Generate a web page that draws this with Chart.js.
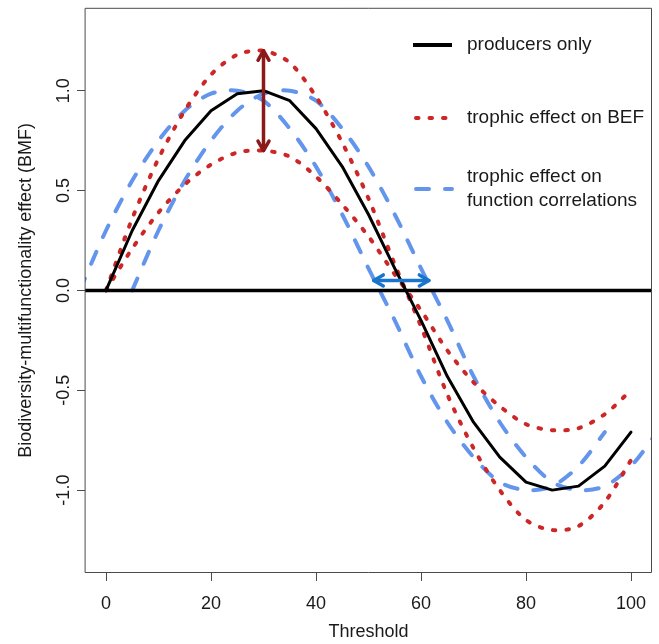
<!DOCTYPE html>
<html>
<head>
<meta charset="utf-8">
<script src="https://cdn.jsdelivr.net/npm/chart.js@4.4.0/dist/chart.umd.min.js"></script>
<style>
  html, body { margin: 0; padding: 0; background: #fff; }
  #wrap { width: 659px; height: 644px; position: relative; }
</style>
</head>
<body>
<div id="wrap"><canvas id="chart"></canvas></div>
<script>
// values
const thresholds = [0, 5, 10, 15, 20, 25, 30, 35, 40, 45, 50, 55, 60, 65, 70, 75, 80, 85, 90, 95, 100];
const producersOnly = [0, 0.3, 0.55, 0.75, 0.9, 0.985, 1.0, 0.95, 0.81, 0.62, 0.38, 0.11, -0.15, -0.43, -0.66, -0.835, -0.96, -1.0, -0.98, -0.88, -0.71];
const befHigh = [0, 0.36, 0.66, 0.9, 1.08, 1.18, 1.2, 1.14, 0.97, 0.74, 0.46, 0.13, -0.18, -0.52, -0.79, -1.0, -1.15, -1.2, -1.18, -1.06, -0.85];
const befLow = [0, 0.21, 0.39, 0.53, 0.63, 0.69, 0.7, 0.67, 0.57, 0.43, 0.27, 0.08, -0.1, -0.3, -0.46, -0.58, -0.67, -0.7, -0.69, -0.62, -0.5];
const corrEarlyX = [-5, 0, 5, 10, 15, 20, 25, 30, 35, 40, 45, 50, 55, 60, 65, 70, 75, 80, 85, 90, 95];
const corrEarlyY = [0, 0.3, 0.55, 0.75, 0.9, 0.985, 1.0, 0.95, 0.81, 0.62, 0.38, 0.11, -0.15, -0.43, -0.66, -0.835, -0.96, -1.0, -0.98, -0.88, -0.71];
const corrLateX = [5, 10, 15, 20, 25, 30, 35, 40, 45, 50, 55, 60, 65, 70, 75, 80, 85, 90, 95, 100, 105];
const corrLateY = [0, 0.3, 0.55, 0.75, 0.9, 0.985, 1.0, 0.95, 0.81, 0.62, 0.38, 0.11, -0.15, -0.43, -0.66, -0.835, -0.96, -1.0, -0.98, -0.88, -0.71];

const xTicks = [0, 20, 40, 60, 80, 100];
const yTicks = [-1, -0.5, 0, 0.5, 1];

// the two arrows: BEF spread at threshold 30, correlation shift around zero
const befArrow = { x: 30, from: 0.7, to: 1.2 };
const corrArrow = { y: 0.05, from: 51, to: 61.5 };

const legendLabels = [['producers only'], ['trophic effect on BEF'], ['trophic effect on', 'function correlations']];

const FONT = "'Liberation Sans', Arial, Helvetica, sans-serif";
const TEXT_COLOR = '#1a1a1a';
const AXIS_COLOR = '#4a4a4a';
const RED = '#cd2626';
const BLUE = '#6495ed';

function toPoints(xs, ys) {
    return xs.map((x, i) => ({ x: x, y: ys[i] }));
}

const lineBase = { pointRadius: 0, fill: false, clip: 0, borderCapStyle: 'round', borderJoinStyle: 'round' };

const datasets = [
    Object.assign({}, lineBase, { label: 'producers only', data: toPoints(thresholds, producersOnly),
        borderColor: '#000', borderWidth: 3, tension: 0 }),
    Object.assign({}, lineBase, { label: 'trophic effect on BEF', data: toPoints(thresholds, befHigh),
        borderColor: RED, borderWidth: 4, borderDash: [2.5, 11], tension: 0.3 }),
    Object.assign({}, lineBase, { label: 'trophic effect on BEF (low)', data: toPoints(thresholds, befLow),
        borderColor: RED, borderWidth: 4, borderDash: [2.5, 11], tension: 0.3 }),
    Object.assign({}, lineBase, { label: 'trophic effect on function correlations', data: toPoints(corrEarlyX, corrEarlyY),
        borderColor: BLUE, borderWidth: 4, borderDash: [13, 16], tension: 0.3 }),
    Object.assign({}, lineBase, { label: 'trophic effect on function correlations (late)', data: toPoints(corrLateX, corrLateY),
        borderColor: BLUE, borderWidth: 4, borderDash: [13, 16], tension: 0.3 })
];

function drawArrow(ctx, x1, y1, x2, y2, color) {
    const head = 11, ang = Math.PI / 6;
    ctx.strokeStyle = color;
    ctx.lineWidth = 3.5;
    ctx.lineCap = 'round';
    ctx.lineJoin = 'round';
    ctx.beginPath();
    ctx.moveTo(x1, y1);
    ctx.lineTo(x2, y2);
    ctx.stroke();
    [[x1, y1, x2, y2], [x2, y2, x1, y1]].forEach(([fx, fy, tx, ty]) => {
        const t = Math.atan2(ty - fy, tx - fx);
        ctx.beginPath();
        ctx.moveTo(tx - head * Math.cos(t - ang), ty - head * Math.sin(t - ang));
        ctx.lineTo(tx, ty);
        ctx.lineTo(tx - head * Math.cos(t + ang), ty - head * Math.sin(t + ang));
        ctx.stroke();
    });
}

const overlayPlugin = {
    id: 'overlay',
    afterDatasetsDraw(chart) {
        const { ctx, chartArea: a, scales: { x, y } } = chart;
        ctx.save();
        // horizontal zero line
        const y0 = y.getPixelForValue(0);
        ctx.strokeStyle = '#000';
        ctx.lineWidth = 3.5;
        ctx.beginPath();
        ctx.moveTo(a.left, y0);
        ctx.lineTo(a.right, y0);
        ctx.stroke();

        drawArrow(ctx, x.getPixelForValue(befArrow.x), y.getPixelForValue(befArrow.from),
            x.getPixelForValue(befArrow.x), y.getPixelForValue(befArrow.to), '#8b1a1a');
        drawArrow(ctx, x.getPixelForValue(corrArrow.from), y.getPixelForValue(corrArrow.y),
            x.getPixelForValue(corrArrow.to), y.getPixelForValue(corrArrow.y), '#1874cd');

        // plot box
        ctx.strokeStyle = AXIS_COLOR;
        ctx.lineWidth = 1;
        ctx.strokeRect(a.left + 0.5, a.top + 0.5, a.right - a.left - 1, a.bottom - a.top - 1);
        ctx.restore();
    },
    afterDraw(chart) {
        const { ctx } = chart;
        const rows = [45, 118, 177];
        const sampleY = [45, 118, 189];
        ctx.save();
        ctx.font = '19px ' + FONT;
        ctx.fillStyle = TEXT_COLOR;
        ctx.textBaseline = 'middle';
        ctx.textAlign = 'left';
        [0, 1, 3].forEach((di, i) => {
            const ds = chart.data.datasets[di];
            ctx.strokeStyle = ds.borderColor;
            ctx.lineWidth = di === 0 ? 4 : ds.borderWidth;
            ctx.lineCap = di === 0 ? 'butt' : 'round';
            ctx.setLineDash(ds.borderDash || []);
            ctx.beginPath();
            ctx.moveTo(di === 0 ? 413 : 416, sampleY[i]);
            ctx.lineTo(452, sampleY[i]);
            ctx.stroke();
            ctx.setLineDash([]);
            legendLabels[i].forEach((line, k) => ctx.fillText(line, 467, rows[i] + k * 24));
        });
        ctx.restore();
    }
};

new Chart(document.getElementById('chart'), {
    type: 'line',
    data: { datasets: datasets },
    plugins: [overlayPlugin],
    options: {
        responsive: true,
        maintainAspectRatio: false,
        animation: false,
        layout: { padding: { top: 7, right: 7, left: 0, bottom: 0 } },
        plugins: { legend: { display: false }, tooltip: { enabled: false } },
        scales: {
            x: {
                type: 'linear',
                min: -4,
                max: 104,
                afterFit: s => { s.height = 71; },
                afterBuildTicks: s => { s.ticks = xTicks.map(v => ({ value: v })); },
                border: { display: false },
                grid: { drawOnChartArea: false, drawTicks: true, tickLength: 8, tickColor: AXIS_COLOR, tickWidth: 1 },
                ticks: { color: TEXT_COLOR, font: { family: FONT, size: 18 }, padding: 12, maxRotation: 0, autoSkip: false,
                    callback: v => String(v) },
                title: { display: true, text: 'Threshold', color: TEXT_COLOR, font: { family: FONT, size: 18 },
                    padding: { top: 0, bottom: 1 } }
            },
            y: {
                type: 'linear',
                min: -1.415,
                max: 1.415,
                afterFit: s => { s.width = 85; },
                afterBuildTicks: s => { s.ticks = yTicks.map(v => ({ value: v })); },
                border: { display: false },
                grid: { drawOnChartArea: false, drawTicks: true, tickLength: 8, tickColor: AXIS_COLOR, tickWidth: 1 },
                ticks: { color: TEXT_COLOR, font: { family: FONT, size: 18 }, padding: -3, minRotation: 90, maxRotation: 90,
                    crossAlign: 'center', autoSkip: false, callback: v => v.toFixed(1) },
                title: { display: true, text: 'Biodiversity-multifunctionality effect (BMF)', color: TEXT_COLOR,
                    font: { family: FONT, size: 18 }, padding: { top: 15, bottom: 0 } }
            }
        }
    }
});
</script>
</body>
</html>
